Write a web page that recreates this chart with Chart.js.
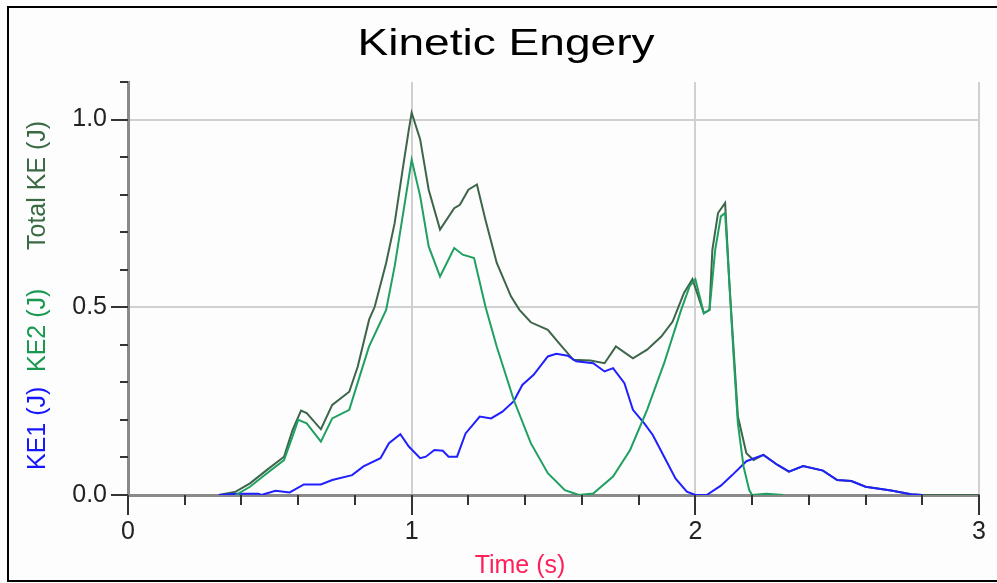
<!DOCTYPE html>
<html>
<head>
<meta charset="utf-8">
<script src="https://cdn.jsdelivr.net/npm/chart.js@4.4.1/dist/chart.umd.min.js"></script>
<style>
  html, body { margin: 0; padding: 0; background: #fdfdfd; }
  canvas { display: block; }
</style>
</head>
<body>
<canvas id="chart" width="997" height="583"></canvas>
<script>
// values (time in s, energy in J)
const ke1Time = [0.32, 0.38, 0.46, 0.47, 0.52, 0.57, 0.62, 0.68, 0.72, 0.79, 0.83, 0.89, 0.92, 0.96, 0.99,
  1.03, 1.05, 1.08, 1.11, 1.13, 1.16, 1.19, 1.24, 1.28, 1.32, 1.36, 1.39, 1.43, 1.48, 1.51, 1.55, 1.58,
  1.64, 1.68, 1.71, 1.75, 1.78, 1.82, 1.85, 1.89, 1.93, 1.97, 2.0, 2.04, 2.09, 2.13, 2.18, 2.24, 2.29,
  2.33, 2.38, 2.45, 2.5, 2.55, 2.6, 2.69, 2.76, 2.8];
const ke1 = [0, 0.003, 0.003, 0, 0.011, 0.007, 0.028, 0.028, 0.04, 0.053, 0.076, 0.098, 0.138, 0.162, 0.129,
  0.098, 0.102, 0.12, 0.118, 0.102, 0.102, 0.164, 0.209, 0.204, 0.222, 0.25, 0.293, 0.32, 0.369, 0.376, 0.371, 0.356,
  0.351, 0.329, 0.338, 0.298, 0.227, 0.191, 0.16, 0.102, 0.044, 0.009, 0, 0, 0.025, 0.053, 0.09, 0.107, 0.08,
  0.062, 0.077, 0.065, 0.04, 0.037, 0.022, 0.012, 0.002, 0];

const ke2Time = [0.38, 0.43, 0.49, 0.55, 0.58, 0.6, 0.63, 0.68, 0.72, 0.78, 0.82, 0.85, 0.91, 0.94, 0.97, 1.0,
  1.03, 1.06, 1.1, 1.15, 1.18, 1.22, 1.26, 1.3, 1.36, 1.42, 1.48, 1.54, 1.59, 1.64, 1.71, 1.77, 1.83, 1.89,
  1.95, 1.98, 2.0, 2.03, 2.05, 2.07, 2.09, 2.105, 2.12, 2.135, 2.15, 2.17, 2.19, 2.2, 2.25, 2.31];
const ke2 = [0, 0.022, 0.058, 0.093, 0.156, 0.2, 0.191, 0.142, 0.204, 0.227, 0.324, 0.396, 0.493, 0.609, 0.751, 0.893,
  0.796, 0.662, 0.582, 0.658, 0.64, 0.631, 0.502, 0.395, 0.253, 0.138, 0.058, 0.013, 0, 0.004, 0.049, 0.12, 0.227, 0.351,
  0.493, 0.556, 0.575, 0.484, 0.493, 0.653, 0.742, 0.751, 0.564, 0.369, 0.191, 0.076, 0.013, 0, 0.003, 0];

const totalTime = [0.32, 0.38, 0.43, 0.49, 0.55, 0.58, 0.61, 0.63, 0.68, 0.72, 0.78, 0.81, 0.85, 0.87, 0.91, 0.94,
  0.97, 0.99, 1.0, 1.03, 1.06, 1.1, 1.15, 1.17, 1.2, 1.23, 1.26, 1.3, 1.35, 1.38, 1.42, 1.48, 1.52, 1.57, 1.63,
  1.68, 1.72, 1.78, 1.83, 1.88, 1.92, 1.96, 1.99, 2.03, 2.05, 2.06, 2.08, 2.105, 2.12, 2.135, 2.15, 2.18, 2.205,
  2.24, 2.29, 2.33, 2.38, 2.45, 2.5, 2.55, 2.6, 2.69, 2.76, 2.8, 3.0];
const total = [0, 0.009, 0.031, 0.067, 0.102, 0.173, 0.225, 0.218, 0.175, 0.24, 0.275, 0.342, 0.467, 0.502, 0.618, 0.724,
  0.876, 0.973, 1.018, 0.947, 0.813, 0.707, 0.764, 0.773, 0.813, 0.827, 0.733, 0.618, 0.529, 0.493, 0.46, 0.44, 0.404, 0.36, 0.358,
  0.351, 0.396, 0.364, 0.387, 0.422, 0.462, 0.538, 0.575, 0.484, 0.493, 0.653, 0.751, 0.778, 0.564, 0.387, 0.209, 0.111, 0.093,
  0.107, 0.08, 0.062, 0.077, 0.065, 0.04, 0.037, 0.022, 0.012, 0.002, 0, 0];

const xMajor = [1, 2, 3];
const yMajor = [0.5, 1.0];
const yTitleParts = [
  { text: "KE1 (J)", color: "#1515ff", start: 470 },
  { text: "KE2 (J)", color: "#18994f", start: 372 },
  { text: "Total KE (J)", color: "#3a6a44", start: 250 }
];

const pts = (xs, ys) => xs.map((x, i) => ({ x: x, y: ys[i] }));
const near = (a, b) => Math.abs(a - b) < 1e-6;

const decor = {
  id: "decor",
  beforeDraw(chart) {
    const c = chart.ctx;
    c.save();
    c.fillStyle = "#fdfdfd";
    c.fillRect(0, 0, chart.width, chart.height);
    c.strokeStyle = "#000";
    c.lineWidth = 2;
    c.beginPath();
    c.moveTo(997, 7); c.lineTo(8, 7); c.lineTo(8, 581); c.lineTo(997, 581);
    c.stroke();
    c.restore();
  },
  afterDraw(chart) {
    const c = chart.ctx;
    const xs = chart.scales.x, ys = chart.scales.y;
    const area = chart.chartArea;
    c.save();
    // tick marks
    c.strokeStyle = "#333";
    c.lineWidth = 2;
    c.beginPath();
    ys.ticks.forEach(t => {
      const py = Math.round(ys.getPixelForValue(t.value));
      const len = near(Math.round(t.value * 10) % 5, 0) ? 17 : 8;
      c.moveTo(area.left - len, py); c.lineTo(area.left, py);
    });
    xs.ticks.forEach(t => {
      const px = Math.round(xs.getPixelForValue(t.value));
      const len = near(t.value, Math.round(t.value)) ? 20 : 10;
      c.moveTo(px, area.bottom); c.lineTo(px, area.bottom + len);
    });
    c.stroke();

    // title
    c.fillStyle = "#000";
    c.font = '37px Arial, "Liberation Sans", sans-serif';
    c.textAlign = "center";
    c.textBaseline = "alphabetic";
    const title = "Kinetic Engery";
    const sx = 297 / c.measureText(title).width;
    c.translate(506, 55);
    c.scale(sx, 1);
    c.fillText(title, 0, 0);
    c.setTransform(1, 0, 0, 1, 0, 0);

    // x title
    c.font = '25px Arial, "Liberation Sans", sans-serif';
    c.fillStyle = "#ff1f5a";
    c.fillText("Time (s)", 520, 573);

    // y title in three colours
    c.textAlign = "left";
    yTitleParts.forEach(p => {
      c.save();
      c.translate(45, p.start);
      c.rotate(-Math.PI / 2);
      c.fillStyle = p.color;
      c.fillText(p.text, 0, 0);
      c.restore();
    });
    c.restore();
  }
};

const ctx = document.getElementById("chart");
const chart = new Chart(ctx, {
  type: "line",
  data: {
    datasets: [
      { label: "KE2 (J)", data: pts(ke2Time, ke2), borderColor: "#1fa060", borderWidth: 2 },
      { label: "KE1 (J)", data: pts(ke1Time, ke1), borderColor: "#2020ff", borderWidth: 2 },
      { label: "Total KE (J)", data: pts(totalTime, total), borderColor: "#3d6549", borderWidth: 2 }
    ]
  },
  options: {
    responsive: false,
    animation: false,
    devicePixelRatio: 1,
    layout: { padding: { left: 0, right: 18, top: 82, bottom: 0 } },
    elements: { point: { radius: 0 }, line: { tension: 0 } },
    plugins: { legend: { display: false }, title: { display: false }, tooltip: { enabled: false } },
    scales: {
      x: {
        type: "linear",
        min: 0,
        max: 3,
        afterFit: s => { s.height = 88; s.paddingLeft = 0; s.paddingRight = 0; },
        border: { display: true, color: "#8a8a8a", width: 3 },
        grid: {
          drawTicks: false,
          lineWidth: 2,
          color: c => xMajor.some(m => near(m, c.tick.value)) ? "#d0d0d0" : "rgba(0,0,0,0)"
        },
        ticks: {
          stepSize: 0.2,
          autoSkip: false,
          maxRotation: 0,
          padding: 22,
          color: "#222",
          font: { family: 'Arial, "Liberation Sans", sans-serif', size: 25 },
          callback: v => near(v, Math.round(v)) ? String(Math.round(v)) : ""
        }
      },
      y: {
        min: 0,
        max: 1.1,
        afterFit: s => { s.width = 128; s.paddingTop = 0; s.paddingBottom = 0; },
        border: { display: true, color: "#8a8a8a", width: 3 },
        grid: {
          drawTicks: false,
          lineWidth: 2,
          color: c => yMajor.some(m => near(m, c.tick.value)) ? "#d0d0d0" : "rgba(0,0,0,0)"
        },
        ticks: {
          stepSize: 0.1,
          autoSkip: false,
          padding: 21,
          color: "#222",
          font: { family: 'Arial, "Liberation Sans", sans-serif', size: 25 },
          callback: v => near(Math.round(v * 10) % 5, 0) && v < 1.05 ? v.toFixed(1) : ""
        }
      }
    }
  },
  plugins: [decor]
});
</script>
</body>
</html>
